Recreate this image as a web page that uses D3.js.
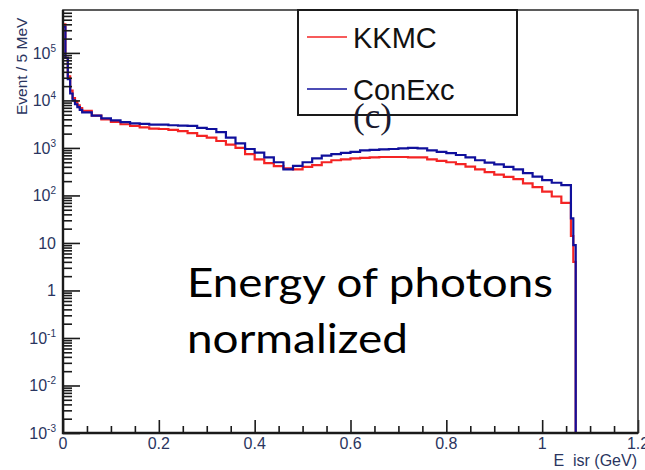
<!DOCTYPE html>
<html>
<head>
<meta charset="utf-8">
<script src="https://cdn.jsdelivr.net/npm/d3@7"></script>
<style>
  body { margin: 0; background: #fff; }
  svg { display: block; }
</style>
</head>
<body>
<div id="chart"></div>
<script>
// Bin edges (GeV): fine bins at the start, 20 MeV bins in the middle, fine bins at the end
var binEdges = [0, 0.005, 0.01, 0.015, 0.02, 0.025, 0.03, 0.035, 0.04,
  0.06, 0.08, 0.10, 0.12, 0.14, 0.16, 0.18, 0.20, 0.22, 0.24, 0.26, 0.28, 0.30,
  0.32, 0.34, 0.36, 0.38, 0.40, 0.42, 0.44, 0.46, 0.48, 0.50, 0.52, 0.54, 0.56,
  0.58, 0.60, 0.62, 0.64, 0.66, 0.68, 0.70, 0.72, 0.74, 0.76, 0.78, 0.80, 0.82,
  0.84, 0.86, 0.88, 0.90, 0.92, 0.94, 0.96, 0.98, 1.00, 1.02, 1.04, 1.06,
  1.065, 1.07, 1.2];

// Events / 5 MeV
var kkmcValues = [400000, 79000, 32000, 16000, 11200, 9300, 7900, 6900,
  6000, 4800, 4000, 3550, 3150, 2900, 2700, 2550, 2500, 2400, 2250, 2050, 1800,
  1650, 1400, 1170, 1000, 740, 575, 480, 415, 370, 355, 400, 435, 500, 550, 575,
  600, 615, 630, 645, 645, 645, 630, 630, 575, 535, 500, 455, 405, 355, 310,
  275, 245, 220, 180, 150, 120, 95, 70,
  14, 4, 0];

var conexcValues = [355000, 79000, 28000, 14000, 10000, 8300, 7200, 6300,
  5600, 4800, 4200, 3800, 3500, 3300, 3200, 3100, 3100, 3000, 2950, 2900, 2650,
  2500, 2150, 1650, 1250, 950, 800, 630, 500, 355, 420, 500, 600, 690, 740, 790,
  830, 890, 910, 930, 950, 980, 1000, 980, 890, 830, 780, 710, 630, 550, 490,
  450, 400, 355, 295, 250, 210, 185, 165,
  33, 9, 0];

var seriesNames = ["KKMC", "ConExc"];
var seriesColors = ["#f42424", "#10109c"];

var xTickValues = [0, 0.2, 0.4, 0.6, 0.8, 1, 1.2];
var xTickLabels = ["0", "0.2", "0.4", "0.6", "0.8", "1", "1.2"];
var yTickValues = [1e-3, 1e-2, 1e-1, 1, 10, 100, 1e3, 1e4, 1e5];
var yTickBase = ["10", "10", "10", "1", "10", "10", "10", "10", "10"];
var yTickExp = ["-3", "-2", "-1", "", "", "2", "3", "4", "5"];

var width = 645, height = 470;
var plot = {left: 63, right: 638, top: 10, bottom: 433};
var labelColor = "#2a3560";

var svg = d3.select("#chart")
  .append("svg")
    .attr("width", width)
    .attr("height", height);

var x = d3.scaleLinear()
    .domain([0, 1.2])
    .range([plot.left, plot.right]);

var y = d3.scaleLog()
    .domain([1e-3, 8.0e5])
    .range([plot.bottom, plot.top]);

svg.append("clipPath")
    .attr("id", "plotclip")
  .append("rect")
    .attr("x", plot.left)
    .attr("y", plot.top)
    .attr("width", plot.right - plot.left)
    .attr("height", plot.bottom - plot.top);

// Histogram as a step line; empty bins sit on the bottom of the frame
function histPath(values) {
  var yv = function(v) { return y(Math.max(v, 1e-3)); };
  var p = d3.path();
  p.moveTo(x(binEdges[0]), yv(values[0]));
  for (var i = 0; i < values.length; i++) {
    if (i > 0) p.lineTo(x(binEdges[i]), yv(values[i]));
    p.lineTo(x(binEdges[i + 1]), yv(values[i]));
  }
  return p.toString();
}

var hist = svg.append("g").attr("clip-path", "url(#plotclip)");
[kkmcValues, conexcValues].forEach(function(vals, i) {
  hist.append("path")
      .attr("d", histPath(vals))
      .attr("fill", "none")
      .attr("stroke", seriesColors[i])
      .attr("stroke-width", 2.2);
});

// Minor ticks for the log axis
var yMinor = [];
for (var e = -3; e <= 5; e++) {
  for (var k = 2; k <= 9; k++) {
    var v = k * Math.pow(10, e);
    if (v < 8.0e5) yMinor.push(v);
  }
}
var xMinor = [];
for (var m = 0; m <= 24; m++) {
  if (m % 4 !== 0) xMinor.push(m * 0.05);
}

// Y axis
svg.append("g")
    .attr("transform", "translate(" + plot.left + ",0)")
    .call(d3.axisLeft(y).tickValues(yMinor).tickSize(-9).tickSizeOuter(0).tickFormat(""))
    .call(function(g) { g.select(".domain").remove(); });
svg.append("g")
    .attr("transform", "translate(" + plot.left + ",0)")
    .call(d3.axisLeft(y).tickValues(yTickValues).tickSize(-17).tickSizeOuter(0).tickFormat(""))
    .call(function(g) { g.select(".domain").remove(); });

// X axis
svg.append("g")
    .attr("transform", "translate(0," + plot.bottom + ")")
    .call(d3.axisBottom(x).tickValues(xMinor).tickSize(-7).tickSizeOuter(0).tickFormat(""))
    .call(function(g) { g.select(".domain").remove(); });
svg.append("g")
    .attr("transform", "translate(0," + plot.bottom + ")")
    .call(d3.axisBottom(x).tickValues(xTickValues).tickSize(-13).tickSizeOuter(0).tickFormat(""))
    .call(function(g) { g.select(".domain").remove(); });

svg.selectAll(".tick line")
    .attr("stroke", "#1a1a1a")
    .attr("stroke-width", 1.6);

// Frame
svg.append("rect")
    .attr("x", plot.left)
    .attr("y", plot.top)
    .attr("width", plot.right - plot.left)
    .attr("height", plot.bottom - plot.top)
    .attr("fill", "none")
    .attr("stroke", "#333")
    .attr("stroke-width", 1.6);
svg.append("path")
    .attr("d", "M" + plot.left + "," + plot.top + "V" + plot.bottom + "H" + plot.right)
    .attr("fill", "none")
    .attr("stroke", "#1a1a1a")
    .attr("stroke-width", 2.4);

// Tick labels
var yLab = svg.append("g")
    .attr("font-family", "Liberation Sans, Arial, sans-serif")
    .attr("fill", labelColor);
yTickValues.forEach(function(v, i) {
  var t = yLab.append("text")
      .attr("x", 56)
      .attr("y", y(v) + 6)
      .attr("text-anchor", "end")
      .attr("font-size", 16);
  t.append("tspan").text(yTickBase[i]);
  if (yTickExp[i]) {
    t.append("tspan")
        .attr("font-size", 10)
        .attr("dy", -7)
        .text(yTickExp[i]);
  }
});

svg.append("g")
    .attr("font-family", "Liberation Sans, Arial, sans-serif")
    .attr("font-size", 16)
    .attr("fill", labelColor)
    .attr("text-anchor", "middle")
  .selectAll("text")
  .data(xTickValues)
  .enter()
  .append("text")
    .attr("x", function(d) { return x(d); })
    .attr("y", 449)
    .text(function(d, i) { return xTickLabels[i]; });

// Axis titles
svg.append("text")
    .attr("x", 637)
    .attr("y", 466)
    .attr("text-anchor", "end")
    .attr("font-family", "Liberation Sans, Arial, sans-serif")
    .attr("font-size", 16)
    .attr("fill", labelColor)
    .attr("xml:space", "preserve")
    .text("E  isr (GeV)");

svg.append("text")
    .attr("transform", "translate(27,115) rotate(-90)")
    .attr("font-family", "Liberation Sans, Arial, sans-serif")
    .attr("font-size", 15.5)
    .attr("fill", labelColor)
    .text("Event / 5 MeV");

// Legend
svg.append("rect")
    .attr("x", 298)
    .attr("y", 10)
    .attr("width", 219)
    .attr("height", 105)
    .attr("fill", "#fff")
    .attr("stroke", "#1a1a1a")
    .attr("stroke-width", 2);
var legendY = [37, 89];
seriesNames.forEach(function(name, i) {
  svg.append("line")
      .attr("x1", 307)
      .attr("x2", 347)
      .attr("y1", legendY[i])
      .attr("y2", legendY[i])
      .attr("stroke", seriesColors[i])
      .attr("stroke-width", 1.6);
  svg.append("text")
      .attr("x", 353)
      .attr("y", legendY[i] + 11)
      .attr("font-family", "Liberation Sans, Arial, sans-serif")
      .attr("font-size", 29)
      .attr("fill", "#111")
      .text(name);
});

svg.append("text")
    .attr("x", 353)
    .attr("y", 128)
    .attr("font-family", "Liberation Serif, Times New Roman, serif")
    .attr("font-size", 35)
    .attr("fill", "#1a1a30")
    .text("(c)");

// Annotation
var note = svg.append("g")
    .attr("font-family", "Lato, Open Sans, sans-serif")
    .attr("font-size", 41)
    .attr("fill", "#000");
note.append("text").attr("x", 187).attr("y", 297)
    .attr("textLength", 366).attr("lengthAdjust", "spacingAndGlyphs")
    .text("Energy of photons");
note.append("text").attr("x", 187).attr("y", 353)
    .attr("textLength", 221).attr("lengthAdjust", "spacingAndGlyphs")
    .text("normalized");
</script>
</body>
</html>
